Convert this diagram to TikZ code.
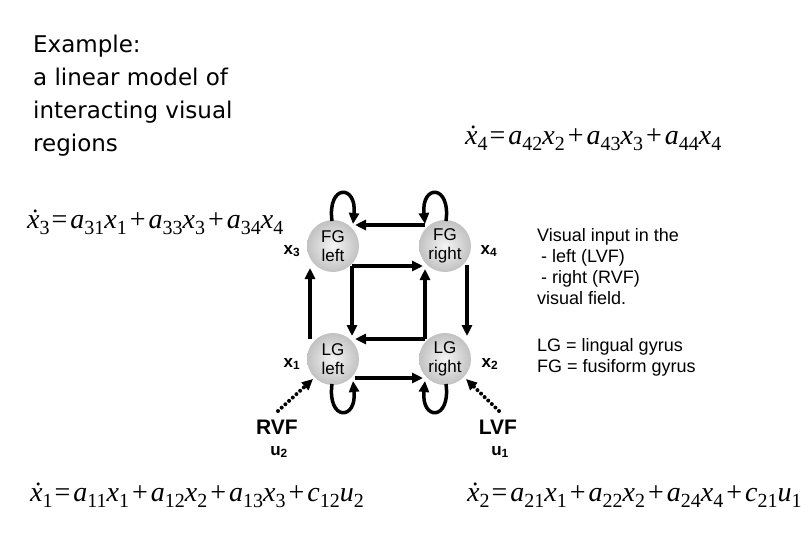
\documentclass[tikz,border=0pt]{standalone}
\usepackage{fontspec}
\setmainfont{Liberation Sans}
\newfontfamily\eqfont{Liberation Serif}
\newfontfamily\titlefont{DejaVu Sans}
\usetikzlibrary{arrows.meta,calc}
\newcommand\vv[2]{\textit{#1}\raisebox{-6pt}{\fontsize{20}{20}\selectfont #2}}
\newcommand\dv[2]{\textit{\.#1}\raisebox{-6pt}{\fontsize{20}{20}\selectfont #2}}
\newcommand\pl{\kern3pt+\kern3pt}
\newcommand\eqs{\kern2pt=\kern3pt}
\begin{document}
\begin{tikzpicture}[x=1pt,y=-1pt,
  region/.style={circle,minimum size=52pt,inner sep=0pt,shading=radial,inner color=gray!8,outer color=gray!48,
    font=\fontsize{17}{19}\selectfont,align=center},
  arr/.style={line width=3.5pt,-{Triangle[length=11pt,width=10pt]}},
  dotarr/.style={line width=4pt,line cap=round,dash pattern=on 0pt off 5pt,-{Triangle[length=11pt,width=10pt]}},
  xlab/.style={font=\fontsize{17}{18}\selectfont\bfseries,inner sep=0pt},
  vf/.style={font=\fontsize{21}{22}\selectfont\bfseries,inner sep=0pt},
  ulab/.style={font=\fontsize{17}{18}\selectfont\bfseries,inner sep=0pt},
  eq/.style={anchor=west,inner sep=0pt,font=\eqfont\fontsize{28}{32}\selectfont},
  txt/.style={anchor=north west,align=left,inner sep=0pt}]
\useasboundingbox (0,0) rectangle (810,540);
% title
\node[txt,font=\titlefont\fontsize{23}{33}\selectfont] (title) at (33,35) {Example:\\a linear model of\\interacting visual\\regions};
% legend
\node[txt,font=\fontsize{18}{21}\selectfont] (legend) at (537,228) {Visual input in the\\\hspace{4pt}- left (LVF)\\\hspace{4pt}- right (RVF)\\visual field.\\[26pt]LG = lingual gyrus\\FG = fusiform gyrus};
% equations
\node[eq] (e3) at (27,222) {\dv{x}{3}\eqs\vv{a}{31}\vv{x}{1}\pl\vv{a}{33}\vv{x}{3}\pl\vv{a}{34}\vv{x}{4}};
\node[eq] (e4) at (465,138) {\dv{x}{4}\eqs\vv{a}{42}\vv{x}{2}\pl\vv{a}{43}\vv{x}{3}\pl\vv{a}{44}\vv{x}{4}};
\node[eq] (e1) at (30,495) {\dv{x}{1}\eqs\vv{a}{11}\vv{x}{1}\pl\vv{a}{12}\vv{x}{2}\pl\vv{a}{13}\vv{x}{3}\pl\vv{c}{12}\vv{u}{2}};
\node[eq] (e2) at (467,495) {\dv{x}{2}\eqs\vv{a}{21}\vv{x}{1}\pl\vv{a}{22}\vv{x}{2}\pl\vv{a}{24}\vv{x}{4}\pl\vv{c}{21}\vv{u}{1}};
% regions
\node[region] (fgl) at (333,246) {FG\\left};
\node[region] (fgr) at (445,246) {FG\\right};
\node[region] (lgl) at (333,359) {LG\\left};
\node[region] (lgr) at (445,359) {LG\\right};
% state labels
\node[xlab] (x3) at (292,251) {x\textsubscript{3}};
\node[xlab] (x4) at (489,251) {x\textsubscript{4}};
\node[xlab] (x1) at (292,364) {x\textsubscript{1}};
\node[xlab] (x2) at (490,364) {x\textsubscript{2}};
% inputs
\node[vf] (rvf) at (277,427) {RVF};
\node[ulab] (u2) at (279,452) {u\textsubscript{2}};
\node[vf] (lvf) at (498,427) {LVF};
\node[ulab] (u1) at (500,452) {u\textsubscript{1}};
% connections
\draw[arr] ($(fgr)+(-20,-21)$) -- ($(fgl)+(22,-21)$);
\draw[arr] ($(fgl)+(19,20)$) -- ($(fgr)+(-22,20)$);
\draw[arr] ($(fgl)+(19,20)$) -- ($(lgl)+(19,-23)$);
\draw[arr] ($(lgr)+(-20,-20)$) -- ($(lgl)+(22,-20)$);
\draw[arr] ($(lgr)+(-20,-20)$) -- ($(fgr)+(-20,23)$);
\draw[arr] ($(lgl)+(-23,-20)$) -- ($(fgl)+(-23,22)$);
\draw[arr] ($(fgr)+(22,19)$) -- ($(lgr)+(22,-23)$);
\draw[arr] ($(lgl)+(22,19)$) -- ($(lgr)+(-22,19)$);
% self loops
\draw[arr] ($(fgl)+(-1,-25)$) .. controls ($(fgl)+(-6,-62)$) and ($(fgl)+(24,-62)$) .. ($(fgl)+(20,-22)$);
\draw[arr] ($(fgr)+(1,-25)$) .. controls ($(fgr)+(6,-62)$) and ($(fgr)+(-24,-62)$) .. ($(fgr)+(-20,-22)$);
\draw[arr] ($(lgl)+(-1,25)$) .. controls ($(lgl)+(-6,62)$) and ($(lgl)+(24,62)$) .. ($(lgl)+(20,22)$);
\draw[arr] ($(lgr)+(1,25)$) .. controls ($(lgr)+(6,62)$) and ($(lgr)+(-24,62)$) .. ($(lgr)+(-20,22)$);
% inputs arrows
\draw[dotarr] ($(rvf)+(1,-16)$) -- ($(lgl)+(-20,20)$);
\draw[dotarr] ($(lvf)+(1,-16)$) -- ($(lgr)+(21,20)$);
\end{tikzpicture}
\end{document}
